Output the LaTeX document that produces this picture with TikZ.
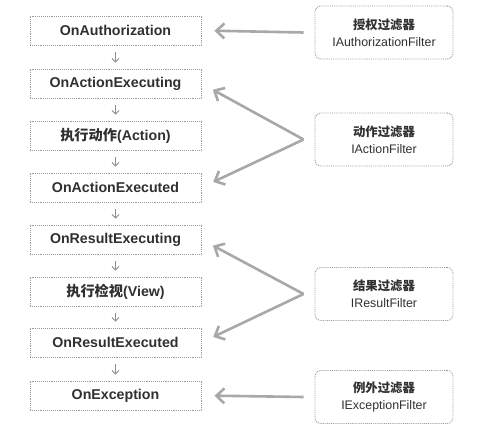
\documentclass[tikz,border=0pt]{standalone}
\usepackage{fontspec}
\setmainfont{Liberation Sans}
\newfontfamily\cjk{Noto Sans CJK SC}
\usepackage{tikz}
\usetikzlibrary{positioning,arrows.meta}

\definecolor{txtgray}{HTML}{303030}
\definecolor{boxgray}{HTML}{9A9A9A}
\definecolor{arrgray}{HTML}{A8A8A8}
\definecolor{flowgray}{HTML}{8E8E8E}

\tikzset{
    stage/.style={draw=boxgray, densely dotted, line width=0.9pt, minimum width=171pt,
                  minimum height=29pt, inner sep=2pt, text=txtgray,
                  font=\fontsize{14.2}{16}\selectfont\bfseries},
    filter/.style={draw=boxgray, densely dotted, line width=0.9pt, rounded corners=6pt,
                   minimum width=138pt, minimum height=53pt, align=center,
                   text=txtgray, font=\fontsize{12.4}{17}\selectfont},
    flow/.style={draw=flowgray, line width=0.8pt, -{Straight Barb[length=3.5pt,width=7pt]},
                 shorten <=7pt, shorten >=6pt},
    hook/.style={draw=arrgray, line width=2.6pt, -{Straight Barb[length=8pt,width=15pt]},
                 shorten >=13pt}
}

\begin{document}
\begin{tikzpicture}[x=1pt, y=-1pt]
            \useasboundingbox (0,0) rectangle (501,427);

            % execution order
            \node[stage] (auth)     at (115.5,30.5)  {OnAuthorization};
            \node[stage] (actExing) at (115.5,83.5)  {OnActionExecuting};
            \node[stage] (action)   at (115.5,135.5) {{\cjk\bfseries 执行动作}(Action)};
            \node[stage] (actExed)  at (115.5,187.5) {OnActionExecuted};
            \node[stage] (resExing) at (115.5,239.5) {OnResultExecuting};
            \node[stage] (view)     at (115.5,291.5) {{\cjk\bfseries 执行检视}(View)};
            \node[stage] (resExed)  at (115.5,342.5) {OnResultExecuted};
            \node[stage] (exc)      at (115.5,395.5) {OnException};

            \draw[flow] (auth)     -- (actExing);
            \draw[flow] (actExing) -- (action);
            \draw[flow] (action)   -- (actExed);
            \draw[flow] (actExed)  -- (resExing);
            \draw[flow] (resExing) -- (view);
            \draw[flow] (view)     -- (resExed);
            \draw[flow] (resExed)  -- (exc);

            % filters
            \node[filter] (fAuth)   at (384,32.5)  {{\cjk\bfseries 授权过滤器}\\IAuthorizationFilter};
            \node[filter] (fAction) at (384,139.5) {{\cjk\bfseries 动作过滤器}\\IActionFilter};
            \node[filter] (fResult) at (384,294)   {{\cjk\bfseries 结果过滤器}\\IResultFilter};
            \node[filter] (fExc)    at (384,397)   {{\cjk\bfseries 例外过滤器}\\IExceptionFilter};

            \coordinate[left=11pt of fAuth.west]   (tAuth);
            \coordinate[left=11pt of fAction.west] (tAction);
            \coordinate[left=11pt of fResult.west] (tResult);
            \coordinate[left=11pt of fExc.west]    (tExc);

            \draw[hook] (tAuth)   -- (auth.east);
            \draw[hook] (tAction) -- (actExing.east);
            \draw[hook] (tAction) -- (actExed.east);
            \draw[hook] (tResult) -- (resExing.east);
            \draw[hook] (tResult) -- (resExed.east);
            \draw[hook] (tExc)    -- (exc.east);
        \end{tikzpicture}
\end{document}
